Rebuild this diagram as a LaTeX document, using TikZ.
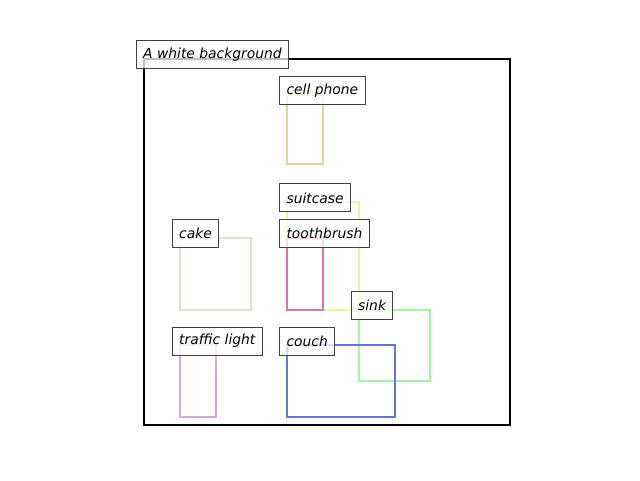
\documentclass[tikz,border=0pt]{standalone}
\usepackage{fontspec}
\setmainfont{DejaVu Sans}
\usepackage{tikz}
\usetikzlibrary{fit,calc}
\definecolor{phonecol}{HTML}{E2D494}
\definecolor{suitcasecol}{HTML}{E8F2A0}
\definecolor{cakecol}{HTML}{E4DECC}
\definecolor{brushcol}{HTML}{EA6CAE}
\definecolor{sinkcol}{HTML}{A4F4A4}
\definecolor{lightcol}{HTML}{D2AAE2}
\definecolor{couchcol}{HTML}{6874DC}
\definecolor{tagborder}{HTML}{404040}

\begin{document}
\begin{tikzpicture}[
  x=26.85pt, y=-26.85pt,
  font=\fontsize{10.4pt}{12pt}\selectfont\itshape,
  objbox/.style={
    draw=#1,
    line width=1.6pt,
    inner sep=0pt
  },
  tag/.style={
    draw=tagborder,
    fill=white,
    fill opacity=0.75,
    text opacity=1,
    line width=0.75pt,
    inner xsep=5.2pt,
    inner ysep=0pt,
    minimum height=21pt,
    anchor=west
  }
]

  % Canvas and background frame
  \useasboundingbox (-4.022,-1.648) rectangle (13.855,11.760);
  \node[objbox=black, line width=1.9pt, fit={(0,0) (10.22,10.22)}] (frame) {};

  % Object boxes
  \node[objbox=phonecol, fit={(4,1) (5,2.94)}] (phone) {};
  \node[objbox=suitcasecol, fit={(4,4) (6,7)}] (suitcase) {};
  \node[objbox=cakecol, fit={(1,5) (3,7)}] (cake) {};
  \node[objbox=brushcol, fit={(4,5) (5,7)}] (brush) {};
  \node[objbox=sinkcol, fit={(6,7) (8,9)}] (sink) {};
  \node[objbox=lightcol, fit={(1,8) (2,10)}] (light) {};
  \node[objbox=couchcol, fit={(4,8) (7,10)}] (couch) {};

  % Labels, top left of each box
  \node[tag] (frametag) at ($(frame.north west)+(-5.25pt,2.4pt)$) {A white background};
  \node[tag] (phonetag) at ($(phone.north west)+(-5.25pt,2.4pt)$) {cell phone};
  \node[tag] (suitcasetag) at ($(suitcase.north west)+(-5.25pt,2.4pt)$) {suitcase};
  \node[tag] (caketag) at ($(cake.north west)+(-5.25pt,2.4pt)$) {cake};
  \node[tag] (brushtag) at ($(brush.north west)+(-5.25pt,2.4pt)$) {toothbrush};
  \node[tag] (sinktag) at ($(sink.north west)+(-5.25pt,2.4pt)$) {sink};
  \node[tag] (lighttag) at ($(light.north west)+(-5.25pt,2.4pt)$) {traffic light};
  \node[tag] (couchtag) at ($(couch.north west)+(-5.25pt,2.4pt)$) {couch};

\end{tikzpicture}
\end{document}
